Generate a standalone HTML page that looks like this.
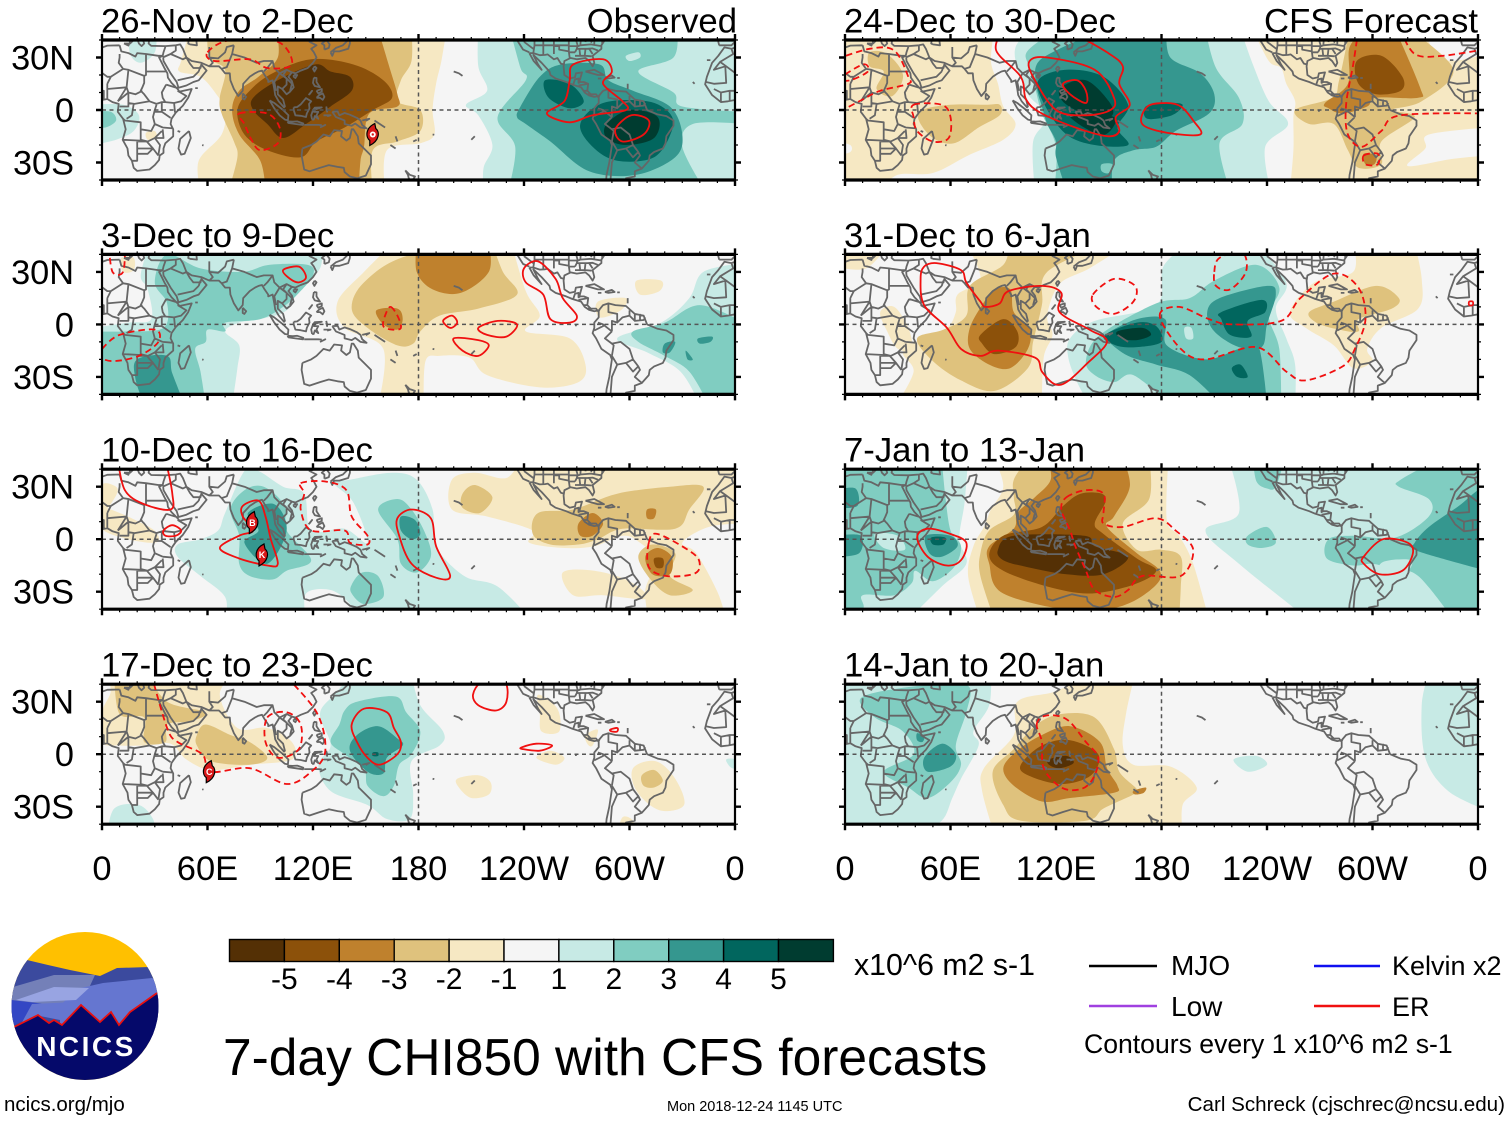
<!DOCTYPE html>
<html lang="en">
<head>
<meta charset="utf-8">
<title>7-day CHI850 with CFS forecasts</title>
<style>
html,body{margin:0;padding:0;background:#fff;}
body{width:1510px;height:1121px;overflow:hidden;}
svg{display:block;font-family:"Liberation Sans",Arial,sans-serif;}
</style>
</head>
<body>
<svg id="chart" width="1510" height="1121" viewBox="0 0 1510 1121" xmlns="http://www.w3.org/2000/svg">
  <defs>
    <clipPath id="logo-clip"><ellipse cx="85" cy="1006" rx="73.5" ry="74"/></clipPath>
  </defs>
  <g id="panels"></g>
  <g id="colorbar"></g>

  <g clip-path="url(#logo-clip)">
    <rect x="10" y="930" width="150" height="152" fill="#ffc000"/>
    <polygon points="5,965 27,960 48,965 70,970 100,976 117,968 149,967 165,967 165,1040 5,1040" fill="#3b4a9e"/>
    <polygon points="5,1000 13,987 54,975 95,975 89,988 81,1000 40,1010 5,1020" fill="#7480b8"/>
    <polygon points="81,988 103,983 152,978 165,985 165,1040 60,1040 60,1005" fill="#6576d0"/>
    <polygon points="16,1000 54,987 89,988 76,1000 32,1002" fill="#98a4e2"/>
    <polygon points="5,1000 11,1000 54,1005 40,1012 16,1024 5,1030" fill="#3347c4"/>
    <polygon points="32,1004 76,1002 60,1020 40,1016 20,1026" fill="#6576d0"/>
    <polygon points="14,1027 38,1015 49,1023 54,1020 62,1025 81,1005 100,1022 111,1012 119,1025 130,1012 157,993 170,993 170,1090 0,1090 0,1027" fill="#05096a"/>
    <polyline points="5,1027 14,1027 38,1015 49,1023 54,1020 62,1025 81,1005 100,1022 111,1012 119,1025 130,1012 157,993" fill="none" stroke="#e81010" stroke-width="1.8"/>
    <text x="86" y="1056" text-anchor="middle" font-size="28" font-weight="700" fill="#fff" letter-spacing="2.5">NCICS</text>
  </g>

  <text x="4" y="1111" font-size="20.5" fill="#000">ncics.org/mjo</text>
  <text x="223" y="1075" font-size="51.5" fill="#000">7-day CHI850 with CFS forecasts</text>
  <text x="667" y="1111" font-size="14.5" fill="#000">Mon 2018-12-24 1145 UTC</text>
  <text x="1505" y="1111" font-size="20.6" text-anchor="end" fill="#000">Carl Schreck (cjschrec@ncsu.edu)</text>
  <text x="854" y="975" font-size="30.3" fill="#000">x10^6 m2 s-1</text>

  <g>
    <line x1="1089" y1="966" x2="1157" y2="966" stroke="#000" stroke-width="2.4"/>
    <text x="1171" y="975" font-size="28">MJO</text>
    <line x1="1089" y1="1006" x2="1157" y2="1006" stroke="#a040e0" stroke-width="2.4"/>
    <text x="1171" y="1016" font-size="28">Low</text>
    <line x1="1314" y1="966" x2="1380" y2="966" stroke="#1010f0" stroke-width="2.4"/>
    <text x="1392" y="975" font-size="27">Kelvin x2</text>
    <line x1="1314" y1="1006" x2="1380" y2="1006" stroke="#f01010" stroke-width="2.4"/>
    <text x="1392" y="1016" font-size="27">ER</text>
    <text x="1084" y="1053" font-size="26.6">Contours every 1 x10^6 m2 s-1</text>
  </g>
</svg>

<script>
/* ---------- colour scale ---------- */
const binValues = [-5, -4, -3, -2, -1, 0, 1, 2, 3, 4, 5];
const binColors = ['#543005', '#8c510a', '#bf812d', '#dfc27d', '#f6e8c3', '#f5f5f5', '#c7eae5', '#80cdc1', '#35978f', '#01665e', '#003c30'];
const colorbarLabels = ['-5', '-4', '-3', '-2', '-1', '1', '2', '3', '4', '5'];

/* ---------- axes ---------- */
const lonTicks = [0, 60, 120, 180, 240, 300, 360];
const lonTickLabels = ['0', '60E', '120E', '180', '120W', '60W', '0'];
const latTicks = [30, 0, -30];
const latTickLabels = ['30N', '0', '30S'];

/* ---------- velocity-potential fills: [bin, [[lon,lat],...]] ---------- */
const fills26Nov = [
 [-1,[[50,46],[196,46],[193,28],[190,15],[188,0],[189,-14],[181,-19],[162,-23],[161,-46],[56,-46],[55,-29],[68,-14],[70,0],[65,9],[56,19],[44,22],[45,28]]],
 [-1,[[25,-13],[30,-12],[31,-16],[26,-17]]],
 [-2,[[60,46],[176,46],[176,28],[170,17],[168,5],[181,0],[181,-12],[168,-18],[154,-23],[154,-46],[72,-46],[77,-27],[75,-18],[68,-2],[67,7],[70,23],[61,30]]],
 [-3,[[99,46],[157,46],[163,26],[168,9],[168,2],[152,-2],[149,-21],[147,-29],[146,-46],[93,-46],[90,-29],[78,-14],[74,0],[78,11],[89,19],[100,30]]],
 [-4,[[119,29],[143,26],[160,17],[165,7],[154,0],[138,-10],[122,-18],[113,-27],[94,-23],[81,-14],[77,0],[84,11],[97,21]]],
 [-5,[[121,26],[130,22],[141,19],[142,11],[130,2],[116,-8],[103,-16],[94,-8],[86,0],[86,7],[100,17]]],
 [1,[[214,46],[214,25],[219,11],[207,3],[214,-3],[222,-20],[217,-33],[217,-46],[365,-46],[365,46]]],
 [1,[[-5,3],[12,3],[21,-3],[18,-12],[8,-17],[-5,-20]]],
 [1,[[15,46],[31,46],[30,33],[22,27],[16,32]]],
 [2,[[232,46],[238,24],[241,17],[225,-4],[235,-21],[231,-46],[343,-46],[330,-21],[336,-8],[365,-8],[365,-1],[330,2],[325,10],[305,22],[325,30],[327,46]]],
 [2,[[-5,-1],[5,-1],[8,-6],[2,-10],[-5,-9]]],
 [1,[[298,31],[305,33],[306,30],[300,28]]],
 [3,[[249,19],[261,26],[283,26],[288,17],[302,11],[323,2],[330,-14],[326,-27],[304,-37],[277,-35],[255,-18],[241,-8],[236,-4],[238,2]]],
 [4,[[252,17],[266,15],[274,5],[266,1],[254,7]]],
 [4,[[272,-8],[285,4],[310,5],[323,-2],[324,-12],[314,-27],[293,-29],[279,-21]]],
 [5,[[287,-8],[300,0],[316,-4],[314,-16],[298,-20],[287,-16]]]
];
const solid26Nov = [
 [[266,17],[268,26],[285,29],[290,22],[285,15],[296,5],[298,0],[279,-3],[266,-7],[253,-2],[263,5]],
 [[292,-11],[301,-3],[311,-6],[308,-14],[296,-18]]
];
const dashed26Nov = [
 [[60,33],[73,40],[100,39],[108,26],[94,24],[84,29],[64,28]],
 [[78,-2],[94,-2],[101,-10],[100,-19],[90,-23],[85,-17],[81,-8]]
];

const fills3Dec = [
 [1,[[27,46],[125,46],[124,32],[112,20],[105,8],[90,3],[78,1],[70,-4],[78,-12],[77,-25],[74,-46],[-5,-46],[-5,-2],[15,1],[28,3],[26,20],[22,28]]],
 [2,[[37,40],[56,32],[80,30],[95,34],[117,34],[120,28],[112,18],[103,10],[90,3],[70,1],[70,-4],[60,-3],[59,-10],[53,-14],[56,-27],[59,-46],[-5,-46],[-5,-4],[15,-4],[35,-2],[37,12],[30,24]]],
 [3,[[20,-20],[37,-18],[40,-28],[47,-46],[24,-46],[19,-31]]],
 [1,[[365,35],[342,30],[334,15],[318,1],[293,-8],[310,-16],[329,-27],[340,-46],[365,-46]]],
 [2,[[302,-4],[320,1],[340,11],[365,1],[365,-46],[345,-46],[334,-27],[320,-18],[305,-10]]],
 [3,[[320,-11],[326,-10],[323,-16],[319,-16]]],
 [3,[[339,-8],[347,-7],[346,-10],[340,-11]]],
 [3,[[332,-15],[336,-20],[333,-20]]],
 [-1,[[165,46],[233,46],[241,19],[249,5],[241,-4],[266,-8],[275,-23],[271,-33],[249,-36],[219,-29],[209,-19],[192,-18],[184,-21],[183,-46],[157,-46],[160,-14],[138,-2],[134,13],[149,30]]],
 [-1,[[304,25],[318,25],[317,19],[306,17]]],
 [-1,[[282,13],[298,15],[295,8],[283,4]]],
 [-1,[[11,38],[18,38],[18,31],[12,30]]],
 [-2,[[149,24],[173,39],[222,46],[228,30],[236,17],[214,9],[192,5],[181,-4],[177,-11],[168,-12],[151,-2],[142,9]]],
 [-3,[[179,46],[179,30],[188,20],[204,18],[220,30],[220,46]]],
 [-3,[[156,8],[168,9],[171,3],[168,-3],[160,0]]]
];
const solid3Dec = [
 [[103,31],[112,33],[116,27],[112,24],[107,26]],
 [[240,32],[248,36],[258,26],[262,15],[270,5],[266,1],[255,3],[251,17],[241,24]],
 [[194,2],[199,5],[202,1],[198,-2]],
 [[214,-2],[225,2],[236,0],[230,-7],[219,-6]],
 [[200,-8],[214,-9],[220,-12],[214,-18],[205,-15]]
];
const dashed3Dec = [
 [[164,10],[168,5],[170,-2],[165,-3],[160,-1],[161,5]],
 [[0,-14],[10,-6],[30,-3],[32,-10],[21,-18],[6,-21],[-2,-18]],
 [[4,44],[6,30],[12,30],[13,44]]
];

const fills10Dec = [
 [1,[[81,39],[70,15],[66,5],[56,0],[43,-3],[43,-10],[56,-21],[70,-33],[70,-46],[244,-46],[225,-27],[206,-21],[190,-4],[188,17],[179,34],[165,38],[141,34],[132,32],[143,21],[151,-2],[138,6],[119,5],[115,26],[103,30],[89,39]]],
 [0,[[116,-46],[116,-31],[130,-29],[141,-37],[143,-46]]],
 [2,[[81,28],[92,30],[104,19],[105,5],[119,-12],[105,-18],[97,-23],[84,-21],[78,-14],[78,2],[73,17]]],
 [2,[[142,-26],[148,-19],[157,-21],[160,-33],[149,-37],[142,-31]]],
 [2,[[157,17],[168,23],[176,17],[184,3],[187,-10],[179,-19],[170,-14],[168,0]]],
 [3,[[170,13],[178,11],[181,3],[176,0],[170,5]]],
 [3,[[83,15],[98,20],[105,5],[94,-14],[81,-2],[89,5]]],
 [-1,[[199,34],[212,38],[230,35],[238,46],[365,46],[365,9],[345,7],[330,-2],[338,-8],[350,-30],[355,-46],[311,-46],[309,-29],[315,-12],[306,-2],[296,2],[280,-4],[263,-5],[243,-2],[245,5],[219,13],[199,17]]],
 [-1,[[262,-19],[280,-18],[300,-24],[310,-34],[285,-32],[268,-32]]],
 [-1,[[0,31],[8,30],[8,25],[0,15]]],
 [-1,[[0,18],[25,8],[32,2],[30,-2],[15,0],[0,6]]],
 [-2,[[205,26],[212,31],[222,24],[215,15],[205,18]]],
 [-2,[[245,3],[248,15],[268,17],[293,26],[323,30],[342,30],[334,17],[326,6],[296,6],[282,0],[271,-3],[255,-3]]],
 [-2,[[305,-10],[313,-3],[326,-8],[323,-21],[336,-29],[323,-32],[312,-23]]],
 [-3,[[271,9],[279,15],[285,9],[279,2],[272,2]]],
 [-3,[[309,-10],[316,-5],[324,-10],[323,-20],[313,-20]]],
 [-3,[[310,17],[315,17],[314,12],[310,12]]],
 [-4,[[314,-11],[319,-11],[319,-16],[315,-16]]]
];
const solid10Dec = [
 [[80,19],[89,22],[93,13],[96,0],[100,-14],[94,-15],[78,-11],[67,-5],[78,2],[86,5],[80,13]],
 [[168,12],[176,17],[187,12],[190,-4],[198,-21],[190,-22],[176,-14],[169,2]],
 [[35,5],[40,8],[45,5],[42,2],[36,2]],
 [[9,46],[13,28],[24,20],[39,17],[40,26],[36,46]]
];
const dashed10Dec = [
 [[113,32],[127,33],[139,28],[142,13],[151,2],[151,-3],[141,-2],[138,5],[119,5],[113,17],[115,26]],
 [[311,-2],[316,3],[336,-8],[340,-15],[336,-20],[321,-21],[311,-16]]
];

const fills17Dec = [
 [-1,[[2,46],[75,46],[67,34],[77,15],[94,15],[108,7],[108,-3],[84,-6],[62,-9],[48,-3],[39,6],[24,5],[10,5],[0,7],[0,24],[5,36]]],
 [-2,[[7,46],[26,46],[37,30],[59,24],[51,19],[37,17],[36,7],[24,7],[24,21],[10,23]]],
 [-2,[[54,11],[59,17],[73,11],[84,7],[94,-2],[84,-6],[62,-4],[54,5]]],
 [-1,[[249,23],[248,34],[259,26],[260,13],[250,13]]],
 [-1,[[275,11],[282,14],[279,5],[276,6]]],
 [-1,[[247,-2],[255,2],[263,-2],[258,-6]]],
 [-1,[[202,-14],[214,-12],[221,-16],[220,-23],[210,-25],[203,-19]]],
 [-1,[[302,-8],[315,-4],[326,-14],[331,-29],[317,-32],[304,-21]]],
 [-2,[[307,-12],[314,-9],[319,-15],[314,-19],[308,-18]]],
 [-1,[[293,-46],[296,-36],[302,-38],[303,-46]]],
 [1,[[132,34],[143,46],[176,46],[181,28],[194,13],[192,5],[176,-4],[177,-23],[175,-37],[162,-37],[151,-29],[130,-21],[123,-6],[130,5],[124,23]]],
 [2,[[138,25],[145,30],[167,33],[173,24],[181,13],[176,0],[169,-6],[166,-18],[160,-24],[151,-18],[149,-8],[138,0],[130,7],[135,17]]],
 [3,[[145,11],[157,16],[168,9],[171,5],[162,-2],[160,-11],[151,-10],[141,2]]],
 [4,[[154,1],[157,1],[157,-1],[154,-1]]],
 [1,[[3,-46],[7,-31],[21,-29],[29,-37],[30,-46]]],
 [1,[[355,-3],[360,-3],[360,-8],[357,-7]]]
];
const solid17Dec = [
 [[142,17],[149,26],[162,24],[166,15],[170,7],[168,0],[158,-6],[151,-2],[145,7]],
 [[211,34],[216,41],[229,41],[230,30],[224,25],[214,28]],
 [[239,4],[247,6],[256,5],[249,2],[239,3]],
 [[289,14],[293,15],[293,13],[290,13]]
];
const dashed17Dec = [
 [[28,46],[37,15],[43,7],[57,0],[62,-10],[84,-8],[105,-17],[119,-10],[127,2],[122,24],[103,46]],
 [[94,21],[105,24],[113,17],[112,3],[100,-2],[93,7]]
];

const fills24Dec = [
 [-1,[[-5,46],[85,46],[83,28],[87,15],[90,2],[97,-8],[90,-17],[70,-26],[50,-36],[30,-37],[20,-46],[-5,-46]]],
 [0,[[-5,-18],[3,-20],[3,-24],[-5,-26]]],
 [-2,[[14,33],[24,32],[33,20],[27,8],[18,12],[22,22],[14,25]]],
 [-2,[[44,0],[60,3],[80,3],[88,3],[88,-3],[76,-10],[62,-19],[50,-16],[42,-6]]],
 [-1,[[232,46],[241,28],[248,24],[251,15],[256,5],[255,-4],[255,-23],[253,-46],[365,-46],[365,46]]],
 [0,[[330,46],[365,46],[365,32],[345,28],[335,33]]],
 [0,[[332,-14],[365,-10],[365,-26],[345,-28],[320,-32],[330,-22]]],
 [-2,[[256,0],[277,7],[281,17],[287,46],[321,46],[346,23],[328,5],[311,0],[324,-4],[305,-18],[305,-31],[292,-33],[286,-23],[278,-8],[264,-8]]],
 [-3,[[273,4],[286,15],[287,36],[297,46],[313,46],[327,13],[326,7],[302,7],[297,2],[283,-2],[275,1]]],
 [-4,[[291,28],[305,31],[317,19],[316,11],[302,9],[292,15]]],
 [-3,[[295,-25],[302,-26],[301,-31],[296,-31]]],
 [1,[[97,36],[105,46],[225,46],[232,26],[241,5],[252,-8],[239,-21],[242,-46],[108,-46],[107,-18],[115,-4],[104,9],[98,24]]],
 [2,[[104,34],[120,46],[205,46],[211,24],[224,7],[226,-8],[213,-19],[219,-46],[119,-46],[120,-21],[112,-2],[108,13],[104,26]]],
 [3,[[109,26],[120,34],[147,46],[183,46],[185,30],[202,21],[210,9],[207,-2],[188,-12],[177,-21],[164,-23],[153,-29],[152,-46],[126,-46],[120,-27],[120,-18],[115,-8],[112,2],[109,13]]],
 [2,[[146,-31],[152,-31],[150,-36],[146,-35]]],
 [4,[[110,17],[126,23],[147,19],[161,3],[155,-10],[161,-20],[142,-20],[126,-14],[114,2]]],
 [4,[[171,2],[183,4],[192,3],[186,-3],[172,-5]]],
 [5,[[123,13],[137,17],[150,5],[152,-3],[142,-4],[131,0],[123,6]]],
 [5,[[128,-2],[153,-4],[148,-14],[136,-10]]]
];
const solid24Dec = [
 [[90,46],[86,34],[100,19],[103,6],[112,-2],[134,-11],[150,-15],[156,-12],[154,-4],[162,3],[156,15],[158,25],[149,33],[126,46]],
 [[105,28],[115,30],[142,23],[153,7],[151,0],[137,-3],[120,0],[107,19]],
 [[124,15],[132,17],[137,11],[137,4],[128,9]],
 [[172,2],[183,4],[191,2],[198,-6],[202,-14],[183,-13],[169,-8]]
];
const dashed24Dec = [
 [[-5,29],[14,35],[28,34],[36,19],[36,15],[20,11],[10,6],[-5,-2],[-15,15]],
 [[39,3],[55,3],[60,-4],[59,-16],[50,-18],[41,-12],[39,-4]],
 [[292,46],[289,26],[285,3],[286,-14],[294,-21],[305,-12],[316,-3],[365,-2],[380,60],[300,60]],
 [[316,46],[324,32],[340,31],[365,35],[380,60]],
 [[-5,17],[10,26],[13,22],[3,17]],
 [[295,-26],[303,-25],[303,-31],[296,-31]]
];

const fills31Dec = [
 [-1,[[69,46],[161,46],[139,32],[122,23],[115,5],[118,-6],[113,-19],[112,-46],[29,-46],[39,-27],[33,-16],[44,-8],[58,-2],[63,7],[64,17],[77,26]]],
 [-1,[[-5,46],[25,46],[12,32],[-5,33]]],
 [-1,[[20,7],[28,10],[36,-2],[38,-14],[30,-14],[24,-4]]],
 [-1,[[289,46],[324,46],[328,26],[326,9],[305,-2],[297,-14],[300,-21],[289,-25],[278,-12],[262,-2],[253,7],[267,24],[289,30]]],
 [-2,[[264,7],[278,13],[302,22],[315,15],[311,9],[292,3],[292,-4],[281,-3],[268,1]]],
 [-2,[[71,22],[90,34],[93,46],[147,46],[115,30],[112,11],[107,-10],[104,-25],[85,-38],[66,-32],[50,-21],[41,-8],[56,-3],[69,5]]],
 [-3,[[78,11],[85,20],[94,20],[96,7],[105,-2],[104,-14],[94,-25],[82,-23],[71,-14],[71,-2]]],
 [-4,[[77,-6],[90,3],[98,-4],[97,-13],[85,-17],[78,-11]]],
 [1,[[128,-8],[142,2],[177,11],[181,33],[195,46],[234,46],[251,24],[245,9],[251,-8],[256,-23],[256,-46],[139,-46],[132,-33],[127,-19]]],
 [2,[[137,-21],[145,-6],[177,12],[196,15],[210,25],[234,34],[247,21],[241,5],[247,-14],[248,-46],[185,-46],[164,-29],[153,-33],[142,-29]]],
 [3,[[148,-6],[166,3],[182,3],[183,-12],[205,-20],[224,-14],[235,-12],[240,-46],[214,-46],[196,-29],[177,-23],[161,-18],[150,-10]]],
 [3,[[206,7],[213,15],[240,22],[245,17],[240,0],[237,-13],[224,-13],[210,-4]]],
 [1,[[193,-2],[197,-2],[198,-8],[194,-8]]],
 [4,[[148,-6],[166,1],[177,-1],[180,-10],[166,-13],[154,-12]]],
 [4,[[214,7],[237,14],[239,7],[229,2],[231,-7],[219,-6],[214,3]]],
 [4,[[220,-25],[225,-23],[229,-30],[223,-30]]],
 [5,[[155,-4],[169,-2],[174,-6],[166,-9],[157,-8]]]
];
const solid31Dec = [
 [[45,33],[52,35],[66,31],[69,24],[77,13],[80,10],[88,12],[93,19],[112,22],[123,18],[122,7],[139,-3],[149,-10],[137,-23],[126,-33],[119,-34],[112,-27],[108,-19],[87,-15],[77,-18],[66,-14],[58,-2],[45,11],[43,26]],
 [[355,13],[357,13],[357,11],[355,11]]
];
const dashed31Dec = [
 [[141,17],[153,26],[165,22],[164,13],[153,6],[143,10]],
 [[210,30],[213,38],[226,41],[228,30],[219,20],[211,22]],
 [[179,5],[190,10],[207,3],[220,0],[248,2],[259,15],[278,29],[292,21],[296,3],[290,-14],[283,-24],[262,-32],[251,-27],[234,-13],[205,-20],[191,-14]]
];

const fills7Jan = [
 [1,[[-5,46],[70,46],[68,21],[65,0],[69,-14],[55,-27],[36,-46],[-5,-46]]],
 [2,[[-5,46],[55,46],[57,25],[60,5],[66,-4],[62,-16],[50,-24],[40,-18],[38,-25],[28,-32],[10,-32],[10,-40],[-5,-46]]],
 [1,[[17,3],[30,2],[34,-6],[22,-5]]],
 [3,[[-5,28],[6,29],[7,19],[-5,18]]],
 [3,[[-5,2],[9,2],[8,-8],[-5,-10]]],
 [3,[[46,2],[60,2],[64,-4],[55,-10],[48,-8]]],
 [4,[[49,1],[57,1],[56,-3],[50,-3]]],
 [1,[[218,46],[224,15],[205,5],[224,-14],[264,-46],[365,-46],[365,46]]],
 [2,[[316,34],[338,46],[365,46],[365,-46],[346,-46],[326,-21],[311,-17],[300,-14],[289,-15],[274,-11],[275,0],[289,2],[313,1],[332,13],[332,23],[315,30]]],
 [1,[[306,-13],[322,-12],[318,-20],[304,-20]]],
 [3,[[324,-2],[332,7],[349,19],[360,28],[365,28],[365,-18],[343,-12],[324,-6]]],
 [2,[[229,2],[240,7],[245,-2],[237,-5],[229,-3]]],
 [2,[[232,46],[250,46],[245,30],[240,29],[234,33]]],
 [-1,[[85,46],[90,30],[83,17],[79,7],[73,-4],[70,-21],[77,-46],[207,-46],[198,-14],[190,2],[183,11],[184,46]]],
 [-2,[[96,34],[104,46],[173,46],[173,23],[158,9],[166,-6],[180,-6],[191,-10],[191,-27],[190,-46],[85,-46],[77,-21],[77,-8],[82,5],[96,14],[96,24]]],
 [-3,[[115,46],[158,46],[162,30],[153,13],[149,7],[166,-8],[179,-18],[176,-27],[158,-38],[131,-41],[90,-31],[82,-14],[82,-4],[96,6],[98,15],[108,24],[117,34]]],
 [-4,[[124,19],[134,26],[146,26],[148,21],[142,9],[147,3],[166,-11],[177,-18],[164,-26],[139,-31],[115,-27],[90,-18],[82,-9],[90,2],[112,7]]],
 [-5,[[87,-6],[96,2],[136,2],[142,-4],[161,-10],[147,-20],[126,-20],[104,-16],[90,-12]]]
];
const solid7Jan = [
 [[41,1],[47,6],[60,3],[69,-2],[66,-12],[58,-15],[47,-10]],
 [[295,-10],[306,0],[320,-2],[323,-8],[317,-18],[304,-20],[295,-14]]
];
const dashed7Jan = [
 [[126,24],[137,28],[147,26],[147,15],[147,9],[158,7],[177,12],[188,5],[198,-6],[191,-21],[169,-21],[161,-29],[153,-33],[142,-29],[137,-18],[131,-4],[128,5],[123,17]]
];

const fills14Jan = [
 [1,[[-5,46],[83,46],[82,28],[73,13],[76,5],[66,-14],[61,-25],[55,-38],[40,-46],[-5,-46]]],
 [2,[[9,32],[33,38],[60,40],[71,38],[69,24],[63,5],[66,-6],[60,-16],[47,-25],[36,-19],[22,-10],[39,0],[33,13],[17,21]]],
 [3,[[45,-2],[55,6],[63,0],[60,-7],[47,-10]]],
 [3,[[41,12],[45,10],[44,7],[41,8]]],
 [1,[[332,46],[365,46],[365,-32],[343,-21],[330,-2],[328,28]]],
 [1,[[221,-3],[234,-1],[240,-6],[229,-10]]],
 [-1,[[98,30],[120,36],[139,46],[165,46],[160,24],[158,5],[164,-6],[185,-7],[200,-19],[192,-29],[192,-46],[85,-46],[78,-21],[79,-8],[96,11]]],
 [-2,[[109,17],[123,23],[142,21],[153,3],[156,-10],[166,-20],[164,-23],[147,-31],[137,-38],[100,-38],[90,-29],[84,-10],[96,3]]],
 [-3,[[112,11],[128,16],[145,7],[149,-8],[155,-18],[153,-22],[128,-25],[112,-27],[96,-18],[90,-8],[98,2]]],
 [-3,[[164,-21],[171,-19],[170,-22],[165,-23]]],
 [-4,[[112,5],[128,8],[144,0],[140,-12],[123,-17],[104,-12],[100,-6]]],
 [-5,[[116,-3],[126,-1],[130,-5],[122,-8],[116,-6]]]
];
const solid14Jan = [];
const dashed14Jan = [
 [[109,17],[114,22],[126,20],[137,7],[144,-2],[141,-14],[134,-20],[123,-19],[113,-8],[112,7]]
];

/* ---------- tropical-cyclone symbols: [lon, lat, letter] ---------- */
const storms26Nov = [[154,-14,'']];
const storms10Dec = [[85.5,9.5,'B'],[91,-9,'K']];
const storms17Dec = [[61,-10,'C']];
const stormsNone = [];

/* ---------- geography (lon, lat) ---------- */
const coastlines = [
 [[10,37],[11,33.5],[15,32.5],[19,30.5],[20,32.5],[25,32],[32,31],[34.5,31],[32.5,30],[34,27],[35.5,24],[37.2,21],[37.5,18.5],[39.5,15.5],[43,12],[44,10.5],[51,12],[49,7],[46,2.5],[42,-1.5],[39.5,-5],[39,-8],[40.5,-11],[40.5,-15],[36,-19],[35,-22],[35,-24.5],[32.8,-26],[32.5,-28.5],[30,-31.5],[27,-34],[20,-34.8],[18,-33],[17,-29],[15,-26],[14.5,-22],[11.8,-17],[13.5,-11],[12,-5],[9,-1],[9.5,3.5],[6,4.5],[3,6.3],[-4,5],[-8,4.5],[-13,8.5],[-17,14.7],[-16,19],[-13,27],[-9.5,31],[-6,35.8],[-2,35],[3,36.8],[10,37]],
 [[34.8,30],[35,28],[39,21],[42.5,16],[43.5,12.7],[48,14],[52,16],[55,17],[59.5,22.5],[56.5,26],[56,24],[52,24],[50,26.5],[48,30],[51,28],[56.5,27],[61,25],[66.5,25],[68,23.5],[70,21],[72.7,21],[73,17],[75,12],[77.5,8],[80,11],[80.3,15],[84,19],[87,21],[89,22],[91,22.5],[92.5,20],[94.5,17],[94.5,16],[97,17],[98,12],[98.5,8.5],[100.5,5],[103.5,1.5],[104,2],[103,6],[100,9],[100,13.5],[102.5,12],[105,9],[107,10.5],[109,13],[108,16.5],[106,19],[108,21.5],[110,21],[113,22.5],[117,24],[120,27],[122,30],[120.5,33],[119,35],[122,37],[118,39],[121,40],[122,42]],
 [[114,-22],[113.5,-26],[115,-34],[118,-35],[124,-33],[129,-31.5],[134,-32.5],[137.5,-33],[138,-35.5],[141,-38],[145,-39],[150,-37.5],[153,-31],[153,-26],[149,-22],[146,-19],[145.5,-15],[143,-11],[142,-11],[141,-16],[139,-17.5],[136,-15],[136.5,-12],[132,-11.5],[129.5,-15],[126,-14],[122,-18],[119,-20],[114,-22]],
 [[172.5,-34.5],[175,-37],[178,-38],[176,-41],[174.5,-39],[174,-37],[172.5,-34.5]],
 [[131,-1],[134,-0.8],[135,-3],[138,-1.7],[141,-2.7],[145,-4.5],[147,-6],[148,-8.5],[150.5,-10.5],[147,-10],[144,-7.7],[142,-9],[138,-8],[138,-6],[133,-4],[131,-1]],
 [[95.3,5.5],[98,4],[103,0],[106,-3],[105.7,-5.8],[104,-5.5],[101,-3],[98,1],[95.3,5.5]],
 [[105.5,-6.5],[108.5,-6.7],[111,-6.5],[114.5,-7.7],[114.3,-8.6],[110,-8],[106,-7.4],[105.5,-6.5]],
 [[109,1.5],[111,1.7],[113,3.2],[116,6.8],[119,5],[117.7,3.5],[118,1],[116.5,-2],[116,-4],[113,-3.3],[110,-3],[109,0],[109,1.5]],
 [[119.5,-5.5],[119,-3],[120,0],[121,1.3],[125,1.5],[121,0.3],[120.5,-1],[123,-1],[122,-3],[123,-5],[121,-3.5],[120.4,-5.5],[119.5,-5.5]],
 [[120.5,18.5],[122,18.3],[122,16],[124,13],[121,13.7],[120,15.5],[120.5,18.5]],
 [[122,7],[123.5,8.5],[125.5,9.5],[126.5,7.5],[125.5,5.8],[124,7],[122,7]],
 [[122,11],[125,12],[125,10.5],[123,9.5],[122,11]],
 [[118,9],[119.5,11],[117.5,8.5]],
 [[121,25],[122,24],[120.8,22],[120,23.5],[121,25]],
 [[109,20],[111,20],[110,18.3],[109,19],[109,20]],
 [[130,33],[131,31],[132,33.5],[135,33.5],[140,35],[141,38],[141,41],[140,40],[137,37],[133,35.5],[130,33]],
 [[126.5,34.5],[129,35.5],[129.5,37.5],[128,39.5],[127.5,40],[125,38],[126.5,37],[126.5,34.5]],
 [[80,9.5],[82,7.5],[81,6],[80,6.5],[80,9.5]],
 [[49.5,-12],[50.5,-16],[47,-25],[45,-25.5],[43.5,-22],[44.5,-16.5],[49.5,-12]],
 [[115,-8.5],[119,-8.5],[123,-8.5],[125,-8.7]],
 [[124,-10],[127,-8.5],[125,-9.5],[124,-10]],
 [[127.5,2],[128,0],[128,-1],[127.5,1]],
 [[126,-3],[130,-3],[128,-3.6]],
 [[148,-6],[152,-5],[150,-6.2]],
 [[155,-6],[158,-8],[161,-10]],
 [[167,-15],[168,-18]],
 [[164,-20],[167,-22]],
 [[177,-18],[179,-17]],
 [[-172,-14],[-171,-14.2]],
 [[43,-12],[44.5,-12.5]],
 [[57,-20],[57.7,-20.3]],
 [[53,12.5],[54.5,12.5]],
 [[-91,-0.5],[-90,-0.5]],
 [[-61,15],[-61,12]],
 [[-67,18.3],[-65.5,18.3]],
 [[-78,18],[-76,18]],
 [[-16,28.5],[-14,28.5]],
 [[-24,16],[-23,15]],
 [[-160,22],[-157,21],[-155,19.5]],
 [[-150,-17],[-148,-15]],
 [[-117,33],[-120.5,34.5],[-124,40],[-124,44]],
 [[-117,32.5],[-114.5,28],[-110,23],[-112,26],[-114.7,31.5],[-110,27],[-105.5,22],[-105,20],[-102,18],[-96,16],[-92.5,14.5],[-87.5,13],[-85.5,10],[-83,8.3],[-80,7.5],[-77.5,8],[-75,11],[-72,12],[-68,11],[-62,10.5],[-57,6],[-52,5],[-50,0],[-44,-2.5],[-39,-3.5],[-35,-6],[-35,-9],[-39,-15],[-39.5,-19],[-41,-22],[-46,-24],[-48.5,-26],[-49,-29],[-53,-33.5],[-57,-35],[-57,-38],[-62,-39],[-62,-41]],
 [[-73.5,-42],[-73,-37],[-71.5,-30],[-70,-20],[-71,-17.5],[-76,-14],[-79,-8],[-81,-5],[-80,-2],[-80,1],[-77.5,4],[-77.5,7],[-79,9],[-80,9],[-82,9],[-84,11],[-83.5,15],[-86,16],[-88.5,16],[-88,18],[-87,21.5],[-90.5,21],[-91,18.7],[-94,18],[-97,20],[-97.5,25],[-97,28],[-93.5,29.7],[-90,29],[-85,29.7],[-83,28],[-81,25],[-80,27],[-81,31],[-76,35],[-76,37],[-74,40],[-72,42]],
 [[-85,22],[-80,23],[-74.5,20],[-78,20],[-85,22]],
 [[-74,18.5],[-70,19.7],[-68.5,18.5],[-72,18],[-74,18.5]],
 [[-9,37],[-6.5,37],[-2,37],[0,39],[-0.5,40],[3,42]],
 [[-9,37],[-9.5,39],[-8.8,42]],
 [[15.5,41],[16,38],[18,40],[16,41]],
 [[12.5,38],[15.5,38],[15,36.8],[12.5,38]],
 [[23,41],[24,38],[22.5,36.5],[21,38],[20,41]],
 [[27,41],[26.5,38],[28,36.7],[36,36.5],[36,36],[35,33],[34.5,31]],
 [[50,37.5],[54,37],[53.5,41],[49.5,41],[49,38],[50,37.5]]
];
const borders = [
 [[25,32],[25,20],[24,19.5],[24,15.5],[23,13],[22,11],[24,9],[27,5],[31,3.5],[34,4.5],[36,4.5],[41,4],[41.5,-1.5]],
 [[25,22],[37,22]],
 [[36.5,14.5],[34,10],[34.5,7],[36,4.5]],
 [[36.5,14.5],[43,12.5]],
 [[43,11],[48,8],[45,5],[41,4]],
 [[10,32],[10,30],[9.5,27],[12,23.5],[15,23],[24,19.5]],
 [[-2,35],[-1,32],[-8.5,27.5],[-5,25],[3,19],[5,19],[12,23.5]],
 [[-8.5,27.5],[-12,23],[-5.5,25]],
 [[-16.5,16],[-12,15],[-5,15.5],[-5.5,25]],
 [[3,15],[5,19]],
 [[3,15],[3,12],[14,13],[15,23]],
 [[14,13],[15,10],[19,9],[23,11]],
 [[3,12],[3,6.5]],
 [[14,13],[9,5]],
 [[9,5],[15,10]],
 [[15,10],[15,2],[10,2]],
 [[15,4],[18.5,3.5],[27,5]],
 [[12,-5],[13,-6],[22,-7],[22,-11],[28,-12],[30,-8],[29,-4],[30,0],[31,3]],
 [[18,3.5],[17,-3],[14,-5]],
 [[34,-1],[39,-4.5]],
 [[30,-1],[34,-1],[34,4.5]],
 [[34.5,-10],[40.5,-10.5]],
 [[30,-8],[34.5,-10]],
 [[34.5,-11],[35,-16],[30,-16],[33,-20],[32,-26]],
 [[12,-17],[22,-17.5],[22,-11]],
 [[20,-18],[20,-29],[17,-29]],
 [[20,-22],[29,-22],[25.5,-18],[20,-18]],
 [[20,-25],[26,-25],[29,-22],[32,-26]],
 [[22,-17],[26,-18],[30,-16],[34,-12]],
 [[-8,10],[-8,4.5]],
 [[-3,5],[-3,11],[1,11],[1,6]],
 [[-12,12],[-8,10],[-3,11]],
 [[34.5,30],[39,32],[46,29],[48,30]],
 [[42,37],[42,34],[39,32]],
 [[36,36.5],[42,37],[44.5,37.5],[46,35],[48,30]],
 [[61,25],[63,27],[61,30],[61,36]],
 [[61,30],[66,29.5],[70,33],[71,36],[75,37]],
 [[68,23.5],[71,24.5],[74,32],[75,37]],
 [[74,32],[81,30],[88,27],[92,28],[97,28],[94,24],[92,22]],
 [[97,28],[98,24],[101,21],[105,23],[108,21.5]],
 [[101,21],[98,16],[99,11]],
 [[101,21],[105,18],[105,14.5],[102.5,12]],
 [[105,23],[103,20],[108,15],[107,11]],
 [[43,17],[52,19],[55,22]],
 [[55,22],[56,25]],
 [[-70,-4],[-70,2],[-67,1],[-64,4],[-60,5],[-57,2],[-52,2.5],[-51,4]],
 [[-70,-4],[-74,-8],[-70,-11],[-65,-10],[-60,-14],[-58,-20],[-55,-24],[-54,-26],[-57,-30],[-53,-33.5]],
 [[-72,12],[-72,7],[-67,6],[-67,1]],
 [[-78,1],[-75,0],[-70,-4]],
 [[-80,-3.5],[-75,-1],[-75,0]],
 [[-70,-18],[-69,-12],[-70,-11]],
 [[-70,-18],[-67,-23],[-62,-22],[-58,-20]],
 [[-67,-23],[-70,-30],[-71,-42]],
 [[-62,-22],[-58,-27],[-55,-24]],
 [[-60,5],[-60,8]],
 [[-57,2],[-57,6]],
 [[-54,2],[-54,6]],
 [[-92,14.5],[-91,17.5],[-89,18],[-89,15.5],[-88,16]],
 [[-89,14],[-83.5,15]],
 [[-86,11],[-84,11]],
 [[-83,8.3],[-83,10]],
 [[-77.5,7.5],[-77,8.5]],
 [[-117,32.5],[-114.7,32.5],[-111,31.3],[-108,31.5],[-106.5,31.8],[-103,29],[-101,29.7],[-99,26.5],[-97.2,26]],
 [[-114.7,32.5],[-114,37],[-114,42]],
 [[-120,39],[-114.7,35]],
 [[-120,39],[-120,42]],
 [[-109,31.5],[-109,42]],
 [[-103,32],[-103,42]],
 [[-114,37],[-94.5,37]],
 [[-103,36.5],[-100,36.5],[-100,34.5],[-94.5,33.5]],
 [[-94.5,42],[-94.5,33.5],[-94,29.7]],
 [[-94.5,36.5],[-90,36.5],[-89,36.5],[-88,37],[-82,37.5],[-76,36.5]],
 [[-91,33],[-94,33]],
 [[-91,33],[-90,35],[-89.5,37],[-91,42]],
 [[-88.5,35],[-88,30.5]],
 [[-85,35],[-85.5,31],[-85,30.7]],
 [[-91,31],[-89.5,31],[-88,31],[-85,31],[-81.5,30.7]],
 [[-90,35],[-84,35],[-81,35.2],[-78,34]],
 [[-85,35],[-83,35],[-81,32]],
 [[-87.5,42],[-88,37]],
 [[-84.8,42],[-85,38.8]],
 [[-82,38.5],[-80.5,40.5]],
 [[-75.5,38],[-75.5,40]],
 [[-80,37.5],[-80,42]]
];

/* ---------- panels ---------- */
const panelTitles = ['26-Nov to 2-Dec','3-Dec to 9-Dec','10-Dec to 16-Dec','17-Dec to 23-Dec','24-Dec to 30-Dec','31-Dec to 6-Jan','7-Jan to 13-Jan','14-Jan to 20-Jan'];
const panelFills = [fills26Nov,fills3Dec,fills10Dec,fills17Dec,fills24Dec,fills31Dec,fills7Jan,fills14Jan];
const panelSolid = [solid26Nov,solid3Dec,solid10Dec,solid17Dec,solid24Dec,solid31Dec,solid7Jan,solid14Jan];
const panelDashed = [dashed26Nov,dashed3Dec,dashed10Dec,dashed17Dec,dashed24Dec,dashed31Dec,dashed7Jan,dashed14Jan];
const panelStorms = [storms26Nov,stormsNone,storms10Dec,storms17Dec,stormsNone,stormsNone,stormsNone,stormsNone];

/* ---------- layout + scales ---------- */
const SVGNS = 'http://www.w3.org/2000/svg';
const PANEL_W = 633, PANEL_H = 140;
const COL_X = [102, 845];
const ROW_Y = [40, 254.4, 469.2, 684.2];

function mk(tag, attrs, parent, text) {
  const el = document.createElementNS(SVGNS, tag);
  for (const k in attrs) el.setAttribute(k, attrs[k]);
  if (text !== undefined) el.textContent = text;
  parent.appendChild(el);
  return el;
}
function xScale(lon, px) { return px + lon / 360 * PANEL_W; }
function yScale(lat, py) { return py + PANEL_H / 2 - lat * (PANEL_H / 80); }
function offMap(d) { return Math.abs(d[1]) > 42 || d[0] < -2 || d[0] > 362; }
function smoothClosed(points, px, py) {
  const p = points.map(function (d) { return [xScale(d[0], px), yScale(d[1], py)]; });
  const off = points.map(offMap);
  const n = p.length;
  function tangent(i) {
    if (off[i]) return [0, 0];
    const a = p[(i - 1 + n) % n], b = p[(i + 1) % n];
    return [(b[0] - a[0]) / 6, (b[1] - a[1]) / 6];
  }
  let d = 'M' + p[0][0].toFixed(1) + ' ' + p[0][1].toFixed(1);
  for (let i = 0; i < n; i++) {
    const j = (i + 1) % n;
    const t1 = tangent(i), t2 = tangent(j);
    d += 'C' + (p[i][0] + t1[0]).toFixed(1) + ' ' + (p[i][1] + t1[1]).toFixed(1) + ' ' + (p[j][0] - t2[0]).toFixed(1) + ' ' + (p[j][1] - t2[1]).toFixed(1) + ' ' + p[j][0].toFixed(1) + ' ' + p[j][1].toFixed(1);
  }
  return d + 'Z';
}
function polyD(points, px, py, shift) {
  return points.map(function (d, i) {
    return (i ? 'L' : 'M') + xScale(d[0] + shift, px).toFixed(1) + ' ' + yScale(d[1], py).toFixed(1);
  }).join('');
}

const root = document.getElementById('panels');
const defs = document.querySelector('defs');

function drawPanel(index) {
  const px = COL_X[index < 4 ? 0 : 1];
  const py = ROW_Y[index % 4];
  const slug = panelTitles[index].toLowerCase().replace(/ /g, '-');

  const g = mk('g', {}, root);
  
  

  const cp = mk('clipPath', { id: 'clip-' + index }, defs);
  mk('rect', { x: px, y: py, width: PANEL_W, height: PANEL_H }, cp);

  const clipped = mk('g', { 'clip-path': 'url(#clip-' + index + ')' }, g);
  const bg = mk('rect', { x: px, y: py, width: PANEL_W, height: PANEL_H, fill: binColors[5] }, clipped);
  
  

  panelFills[index].forEach(function (f) {
    const color = binColors[binValues.indexOf(f[0])];
    const a = mk('path', { d: smoothClosed(f[1], px, py), fill: color, stroke: 'none' }, clipped);
    
    
  });

  let coast = '';
  coastlines.concat(borders).forEach(function (line) {
    coast += polyD(line, px, py, 0) + polyD(line, px, py, 360);
  });
  const cl = mk('path', { d: coast, fill: 'none', stroke: '#666', 'stroke-width': 1.8, 'stroke-linejoin': 'round' }, clipped);
  
  

  const eq = mk('line', { x1: px, x2: px + PANEL_W, y1: yScale(0, py), y2: yScale(0, py), stroke: '#555', 'stroke-width': 1.5, 'stroke-dasharray': '4 3.5' }, clipped);
  
  
  const dl = mk('line', { x1: xScale(180, px), x2: xScale(180, px), y1: py, y2: py + PANEL_H, stroke: '#555', 'stroke-width': 1.5, 'stroke-dasharray': '4 3.5' }, clipped);
  
  

  panelSolid[index].forEach(function (c) {
    const s = mk('path', { d: smoothClosed(c, px, py), fill: 'none', stroke: '#f01010', 'stroke-width': 1.8 }, clipped);
    
    
  });
  panelDashed[index].forEach(function (c) {
    const s = mk('path', { d: smoothClosed(c, px, py), fill: 'none', stroke: '#f01010', 'stroke-width': 1.8, 'stroke-dasharray': '6.5 4' }, clipped);
    
    
  });

  panelStorms[index].forEach(function (st) {
    const cx = xScale(st[0], px), cy = yScale(st[1], py);
    const t = mk('g', {}, clipped);
    
    
    mk('path', { d: 'M' + (cx + 2) + ' ' + (cy - 11) + 'C' + (cx - 8) + ' ' + (cy - 6) + ' ' + (cx - 7) + ' ' + (cy + 3) + ' ' + (cx - 3) + ' ' + (cy + 6) + 'L' + (cx - 3) + ' ' + (cy + 11) + 'C' + (cx + 7) + ' ' + (cy + 6) + ' ' + (cx + 7) + ' ' + (cy - 3) + ' ' + (cx + 3) + ' ' + (cy - 6) + 'Z', fill: '#d81818', stroke: '#000', 'stroke-width': 1.2 }, t);
    mk('circle', { cx: cx, cy: cy, r: st[2] ? 4.4 : 3, fill: st[2] ? '#d81818' : '#fff' }, t);
    if (st[2]) {
      mk('text', { x: cx, y: cy + 3.2, 'text-anchor': 'middle', 'font-size': 9, 'font-weight': 700, fill: '#fff' }, t, st[2]);
    } else {
      mk('circle', { cx: cx, cy: cy, r: 1.2, fill: '#d81818' }, t);
    }
  });

  /* frame */
  const frame = mk('g', {}, g);
  
  
  mk('line', { x1: px - 1, x2: px + PANEL_W + 1, y1: py, y2: py, stroke: '#000', 'stroke-width': 3.2 }, frame);
  mk('line', { x1: px - 1, x2: px + PANEL_W + 1, y1: py + PANEL_H, y2: py + PANEL_H, stroke: '#000', 'stroke-width': 3.2 }, frame);
  mk('line', { x1: px, x2: px, y1: py, y2: py + PANEL_H, stroke: '#000', 'stroke-width': 2.2 }, frame);
  mk('line', { x1: px + PANEL_W, x2: px + PANEL_W, y1: py, y2: py + PANEL_H, stroke: '#000', 'stroke-width': 2.2 }, frame);

  /* ticks */
  let minor = '', major = '';
  for (let lon = 0; lon <= 360; lon += 10) {
    const x = xScale(lon, px).toFixed(1);
    const isMajor = lonTicks.indexOf(lon) >= 0;
    const len = isMajor ? 6 : 3;
    const seg = 'M' + x + ' ' + py + 'V' + (py - len) + 'M' + x + ' ' + (py + PANEL_H) + 'V' + (py + PANEL_H + len);
    if (isMajor) major += seg; else minor += seg;
  }
  for (let lat = -40; lat <= 40; lat += 10) {
    const y = yScale(lat, py).toFixed(1);
    const isMajor = latTicks.indexOf(lat) >= 0;
    const len = isMajor ? 6 : 3;
    const seg = 'M' + px + ' ' + y + 'H' + (px - len) + 'M' + (px + PANEL_W) + ' ' + y + 'H' + (px + PANEL_W + len);
    if (isMajor) major += seg; else minor += seg;
  }
  const tk = mk('path', { d: minor, stroke: '#000', 'stroke-width': 1.2, fill: 'none' }, frame);
  
  
  const tj = mk('path', { d: major, stroke: '#000', 'stroke-width': 2.4, fill: 'none' }, frame);
  
  

  /* titles */
  const title = mk('text', { x: px - 1, y: py - 7.5, 'font-size': 34.7, fill: '#000' }, g, panelTitles[index]);
  
  
  if (index === 0 || index === 4) {
    const rt = mk('text', { x: index === 0 ? px + PANEL_W + 2 : px + PANEL_W, y: py - 7.5, 'font-size': 34.7, 'text-anchor': 'end', fill: '#000' }, g, index === 0 ? 'Observed' : 'CFS Forecast');
    
    
  }

  /* axis labels */
  if (index < 4) {
    latTicks.forEach(function (lat, i) {
      const t = mk('text', { x: 74, y: yScale(lat, py) + 12, 'font-size': 34.3, 'text-anchor': 'end', fill: '#000' }, g, latTickLabels[i]);
      
      
    });
  }
  if (index % 4 === 3) {
    lonTicks.forEach(function (lon, i) {
      const t = mk('text', { x: xScale(lon, px), y: 880, 'font-size': 34.5, 'text-anchor': 'middle', fill: '#000' }, g, lonTickLabels[i]);
      
      
    });
  }
}
panelTitles.forEach(function (_, i) { drawPanel(i); });

/* ---------- colorbar ---------- */
const cb = document.getElementById('colorbar');
const CB_X = 229.5, CB_Y = 939.5, CB_W = 54.9, CB_H = 22;
binColors.forEach(function (color, i) {
  const r = mk('rect', { x: CB_X + i * CB_W, y: CB_Y, width: CB_W, height: CB_H, fill: color, stroke: '#000', 'stroke-width': 1.4 }, cb);
  
  
});
colorbarLabels.forEach(function (label, i) {
  const t = mk('text', { x: CB_X + (i + 1) * CB_W, y: 989, 'font-size': 30, 'text-anchor': 'middle', fill: '#000' }, cb, label);
  
  
});
</script>
</body>
</html>
